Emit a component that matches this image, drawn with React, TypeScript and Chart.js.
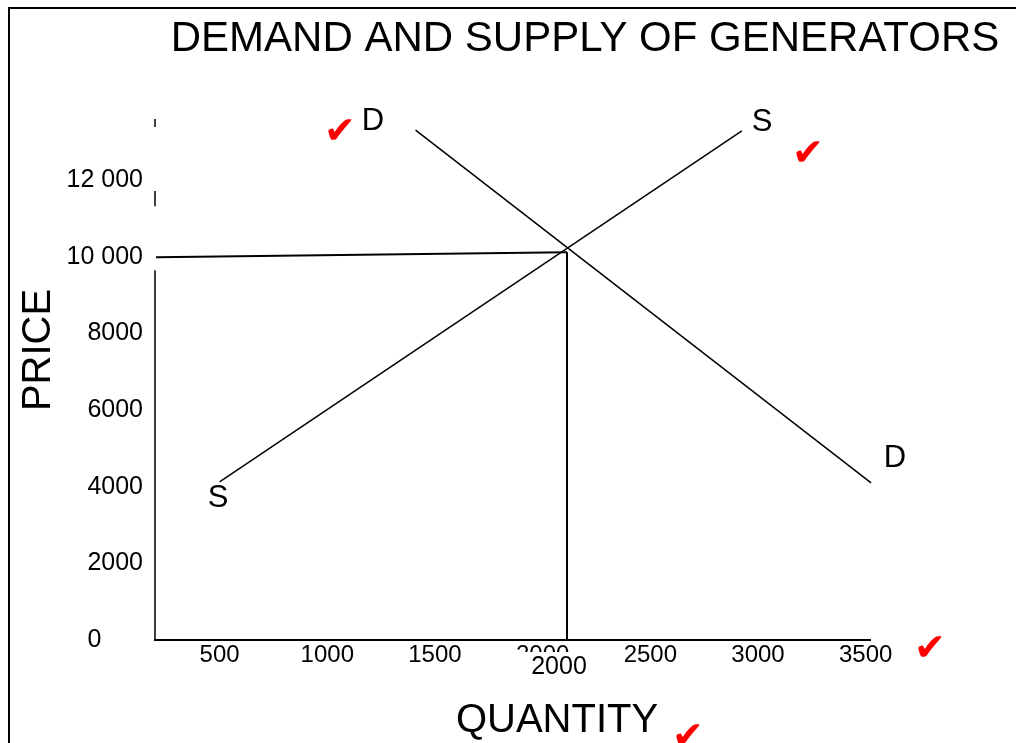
import React, { useEffect, useRef } from 'react';
import { Chart, registerables } from 'chart.js';

Chart.register(...registerables);

const FONT = "'Liberation Sans', Arial, Helvetica, sans-serif";

// Curves (quantity, price)
const supplyQty = [500, 2925];
const supplyPrice = [4130, 13290];
const demandQty = [1410, 3525];
const demandPrice = [13310, 4100];

// Equilibrium guide lines
const eqHorizQty = [205, 2113];
const eqHorizPrice = [9990, 10120];
const eqVertQty = [2113, 2113];
const eqVertPrice = [10120, 0];

// Hand-drawn vertical axis (broken into pieces)
const yAxisSegQty = [200, 200, 200, 200, 200, 200, 200, 200];
const yAxisSegPrice: (number | null)[] = [13600, 13390, null, 11720, 11320, null, 9650, 0];

// Ticks
const xTickValues = [500, 1000, 1500, 2000, 2500, 3000, 3500];
const xTickLabels = ['500', '1000', '1500', '2000', '2500', '3000', '3500'];
const yTickValues = [0, 2000, 4000, 6000, 8000, 10000, 12000];
const yTickLabels = ['0      ', '2000', '4000', '6000', '8000', '10 000', '12 000'];

// Curve labels
const curveLabels = [
  { text: 'D', x: 373, y: 121 },
  { text: 'S', x: 762, y: 122 },
  { text: 'D', x: 895, y: 458 },
  { text: 'S', x: 218, y: 498 },
];
const checkMarks = [
  { x: 340, y: 133 },
  { x: 808, y: 155 },
  { x: 930, y: 650 },
  { x: 688, y: 738 },
];

const pts = (xs: number[], ys: (number | null)[]) => xs.map((x, i) => ({ x, y: ys[i] }));

const annotationPlugin = {
  id: 'annotations',
  afterDraw(chart: any) {
    const ctx = chart.ctx as CanvasRenderingContext2D;
    ctx.save();
    ctx.fillStyle = '#000';
    ctx.textAlign = 'center';
    ctx.textBaseline = 'middle';

    // Title
    ctx.font = `42px ${FONT}`;
    ctx.fillText('DEMAND AND SUPPLY OF GENERATORS', 585, 39);

    // Axis titles
    ctx.font = `40px ${FONT}`;
    ctx.fillText('QUANTITY', 557, 721);
    ctx.save();
    ctx.translate(39, 350);
    ctx.rotate(-Math.PI / 2);
    ctx.fillText('PRICE', 0, 0);
    ctx.restore();

    // Corrected "2000" label over the original one
    ctx.fillStyle = '#fff';
    ctx.fillRect(510, 652, 64, 28);
    ctx.fillStyle = '#000';
    ctx.font = `25px ${FONT}`;
    ctx.fillText('2000', 559, 667);

    // Curve letters
    ctx.font = `31px ${FONT}`;
    curveLabels.forEach((l) => ctx.fillText(l.text, l.x, l.y));

    // Red check marks
    ctx.fillStyle = '#ff0000';
    ctx.font = `38px 'DejaVu Sans', sans-serif`;
    checkMarks.forEach((c) => ctx.fillText('\u2714', c.x, c.y));
    ctx.restore();
  },
};

export default function App() {
  const ref = useRef<HTMLCanvasElement | null>(null);

  useEffect(() => {
    if (!ref.current) return;
    Chart.defaults.font.family = FONT;
    Chart.defaults.color = '#000';
    const lineDs = (data: any[], width: number) => ({
      type: 'line' as const,
      data,
      borderColor: '#000',
      borderWidth: width,
      pointRadius: 0,
      showLine: true,
      spanGaps: false,
      fill: false,
      clip: false as any,
    });
    const chart = new Chart(ref.current, {
      type: 'line',
      data: {
        datasets: [
          lineDs(pts(supplyQty, supplyPrice), 1.5),
          lineDs(pts(demandQty, demandPrice), 1.5),
          lineDs(pts(eqHorizQty, eqHorizPrice), 2),
          lineDs(pts(eqVertQty, eqVertPrice), 2),
          lineDs(pts(yAxisSegQty, yAxisSegPrice), 1.5),
        ] as any,
      },
      options: {
        animation: false,
        responsive: false,
        parsing: false as any,
        layout: { padding: { top: 119, right: 146, left: 0, bottom: 0 } },
        plugins: {
          legend: { display: false },
          title: { display: false },
          tooltip: { enabled: false },
        },
        scales: {
          x: {
            type: 'linear',
            min: 200,
            max: 3520,
            grid: { display: false, drawTicks: false },
            border: { display: true, color: '#000', width: 2 },
            afterBuildTicks: (s: any) => {
              s.ticks = xTickValues.map((v) => ({ value: v }));
            },
            afterFit: (s: any) => {
              s.height = 103;
            },
            ticks: {
              autoSkip: false,
              maxRotation: 0,
              padding: 1,
              color: '#000',
              font: { size: 24 },
              callback: (v: any) => {
                const i = xTickValues.indexOf(Number(v));
                return i >= 0 ? xTickLabels[i] : '';
              },
            },
          },
          y: {
            type: 'linear',
            min: 0,
            max: 13600,
            grid: { display: false, drawTicks: false },
            border: { display: false },
            afterBuildTicks: (s: any) => {
              s.ticks = yTickValues.map((v) => ({ value: v }));
            },
            afterFit: (s: any) => {
              s.width = 155;
            },
            ticks: {
              autoSkip: false,
              padding: 12,
              color: '#000',
              font: { size: 25 },
              callback: (v: any) => {
                const i = yTickValues.indexOf(Number(v));
                return i >= 0 ? yTickLabels[i] : '';
              },
            },
          },
        },
      },
      plugins: [annotationPlugin],
    });
    return () => chart.destroy();
  }, []);

  return (
    <div style={{ position: 'fixed', left: 0, top: 0, width: 1016, height: 743, background: '#fff', overflow: 'hidden' }}>
      <div
        style={{
          position: 'absolute',
          left: 8,
          top: 7,
          width: 1100,
          height: 800,
          borderLeft: '2px solid #000',
          borderTop: '2px solid #000',
        }}
      />
      <canvas ref={ref} width={1016} height={743} style={{ position: 'absolute', left: 0, top: 0 }} />
    </div>
  );
}
